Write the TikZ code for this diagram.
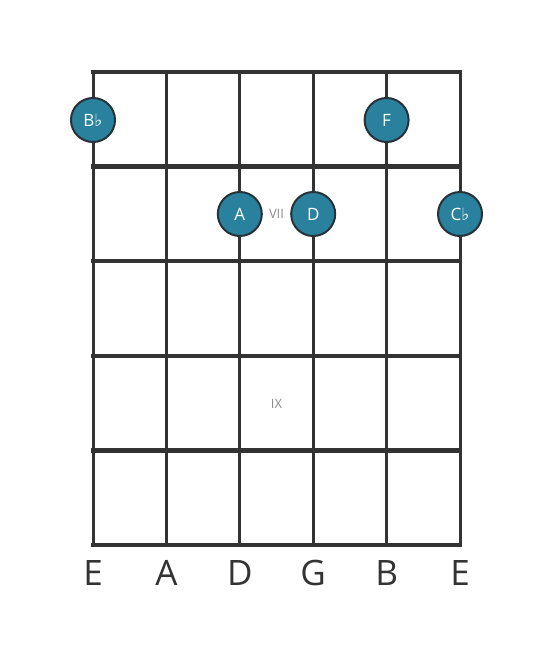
\documentclass[tikz,border=0pt]{standalone}
\usepackage{fontspec}
\setmainfont{Open Sans}
\newfontfamily\symfont{DejaVu Sans}
\usepackage{tikz}
\definecolor{noteteal}{HTML}{2A819E}
\definecolor{rim}{HTML}{263238}
\definecolor{wire}{HTML}{333333}
\newcommand{\flatsign}{{\symfont\char"266D}}

\begin{document}
\begin{tikzpicture}[x=1pt, y=-1pt,
    note/.style={draw=rim, line width=2pt, fill=noteteal, circle, minimum size=44pt, inner sep=0pt, text=white, font=\fontsize{17}{17}\selectfont},
    fretnum/.style={text=gray!90, font=\fontsize{13}{13}\selectfont},
    strname/.style={text=wire, font=\fontsize{35}{35}\selectfont}]
    \useasboundingbox (0, 0) rectangle (553, 656);

    % strings and frets
    \foreach \x in {93, 166.4, 239.8, 313.2, 386.6, 460}
        \draw[wire, line width=3pt] (\x, 72) -- (\x, 545);
    \foreach \y in {72, 166.6, 261.2, 355.8, 450.4, 545}
        \draw[wire, line width=4.5pt] (91, \y) -- (462, \y);

    \node[fretnum] (vii) at (276.5, 214) {VII};
    \node[fretnum] (ix) at (276.5, 404) {IX};

    \node[note] (bflat) at (93, 120) {B\flatsign};
    \node[note] (f) at (386.6, 120) {F};
    \node[note] (a) at (239.8, 214) {A};
    \node[note] (d) at (313.2, 214) {D};
    \node[note] (cflat) at (460, 214) {C\flatsign};

    \node[strname] (e1) at (93, 573) {E};
    \node[strname] (a1) at (166.4, 573) {A};
    \node[strname] (d1) at (239.8, 573) {D};
    \node[strname] (g1) at (313.2, 573) {G};
    \node[strname] (b1) at (386.6, 573) {B};
    \node[strname] (e2) at (460, 573) {E};
\end{tikzpicture}
\end{document}
